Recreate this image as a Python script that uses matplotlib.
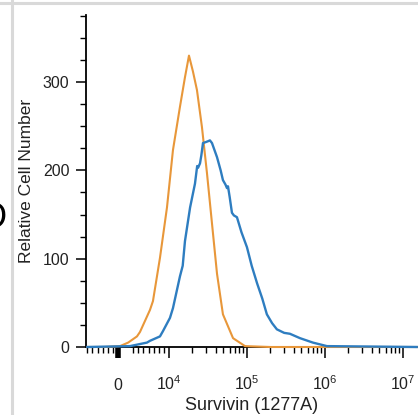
import matplotlib
matplotlib.use("Agg")
import matplotlib.pyplot as plt
from matplotlib.lines import Line2D
from matplotlib.ticker import FixedLocator, NullFormatter
import numpy as np

plt.rcParams['font.family'] = ['Liberation Sans', 'DejaVu Sans']
plt.rcParams['mathtext.fontset'] = 'custom'
plt.rcParams['mathtext.rm'] = 'Liberation Sans'
plt.rcParams['mathtext.it'] = 'Liberation Sans'

# isotype control (orange) and Survivin stained cells (blue)
ctrl_x = [-6000, -2550, 392, 2000, 3725, 4314, 6275, 6860, 8235, 9608,
          11250, 13830, 16000, 18050, 20300, 22850, 26480, 30700, 35600,
          41300, 49200, 66300, 94400, 200000, 1.5e7]
ctrl_y = [0, 0, 1, 5, 12, 17, 42, 52, 101, 158,
          223, 272, 305, 330, 312, 291, 249, 197, 140,
          83, 37, 10, 1, 0, 0]

surv_x = [-6000, 2353, 5686, 6275, 8235, 8824, 10300, 11250, 13830, 15000,
          16040, 18650, 21550, 23000, 23600, 25000, 26000, 27300, 29500,
          31600, 33500, 35600, 41300, 46000, 49200, 53000, 55400, 57100,
          60000, 64200, 68000, 74400, 85000, 100000, 115000, 135000, 157000,
          180000, 210000, 242000, 300000, 355000, 479000, 700000, 1060000,
          1.5e7]
surv_y = [0, 1, 5, 7, 12, 18, 33, 44, 80, 92,
          120, 158, 185, 205, 203, 208, 217, 231, 232,
          233, 234, 231, 215, 200, 189, 184, 180, 182,
          170, 152, 149, 147, 130, 113, 92, 72, 55,
          37, 27, 20, 16, 15, 10, 5, 1,
          0]

major_x = [0, 1e4, 1e5, 1e6, 1e7]
major_labels = ['$0$', '$10^4$', '$10^5$', '$10^6$', '$10^7$']
y_ticks = [0, 100, 200, 300]

fig = plt.figure(figsize=(4.18, 4.15), dpi=100)
ax = fig.add_axes([86 / 418, 68 / 415, 1 - 86 / 418, 332 / 415])

ax.plot(ctrl_x, ctrl_y, color='#E8973A', lw=1.5, clip_on=False, zorder=3)
ax.plot(surv_x, surv_y, color='#2E7DC0', lw=1.7, clip_on=False, zorder=4)

ax.set_xscale('symlog', linthresh=1e4, linscale=0.5885)
ax.set_xlim(-6270, 1.56e7)
ax.set_ylim(0, 376)

minor_x = [-6000, -5000, -4000, -3000, -2000, -1000,
           3000, 4000, 5000, 6000, 7000, 8000, 9000]
for d in [1e4, 1e5, 1e6]:
    minor_x += [k * d for k in range(2, 10)]
ax.xaxis.set_major_locator(FixedLocator(major_x))
ax.xaxis.set_minor_locator(FixedLocator(minor_x))
ax.xaxis.set_minor_formatter(NullFormatter())
ax.set_xticklabels(major_labels)

ax.yaxis.set_major_locator(FixedLocator(y_ticks))
ax.yaxis.set_minor_locator(FixedLocator(np.arange(25, 376, 25)))

for s in ['top', 'right']:
    ax.spines[s].set_visible(False)
for s in ['left', 'bottom']:
    ax.spines[s].set_linewidth(1.3)

ax.tick_params(axis='y', which='major', direction='out', length=7, width=1.1,
               labelsize=11.5, pad=5, labelcolor='#222222')
ax.tick_params(axis='y', which='minor', direction='out', length=4, width=1.0)
ax.tick_params(axis='x', which='major', direction='out', length=8, width=1.1,
               labelsize=11.5, pad=23, labelcolor='#222222')
ax.tick_params(axis='x', which='minor', direction='out', length=4, width=1.0)
for lab in ax.get_xticklabels():
    lab.set_verticalalignment('baseline')
ax.xaxis.get_major_ticks()[0].tick1line.set_markeredgewidth(4)

ax.set_ylabel('Relative Cell Number', fontsize=12.5, labelpad=6, color='#222222')
ax.set_xlabel('Survivin (1277A)', fontsize=13, labelpad=2.5, color='#222222')

# frame of the page this panel sits in
fig.add_artist(Line2D([12 / 418, 12 / 418], [0, 1], transform=fig.transFigure,
                      color='#d9d9d9', lw=2.2))
fig.add_artist(Line2D([0, 1], [1 - 3 / 415, 1 - 3 / 415], transform=fig.transFigure,
                      color='#d9d9d9', lw=2.2))
fig.text(7 / 418, 1 - 218 / 415, 'D', fontsize=26, ha='right', va='center',
         color='black')

fig.savefig('out.png', dpi=100)
